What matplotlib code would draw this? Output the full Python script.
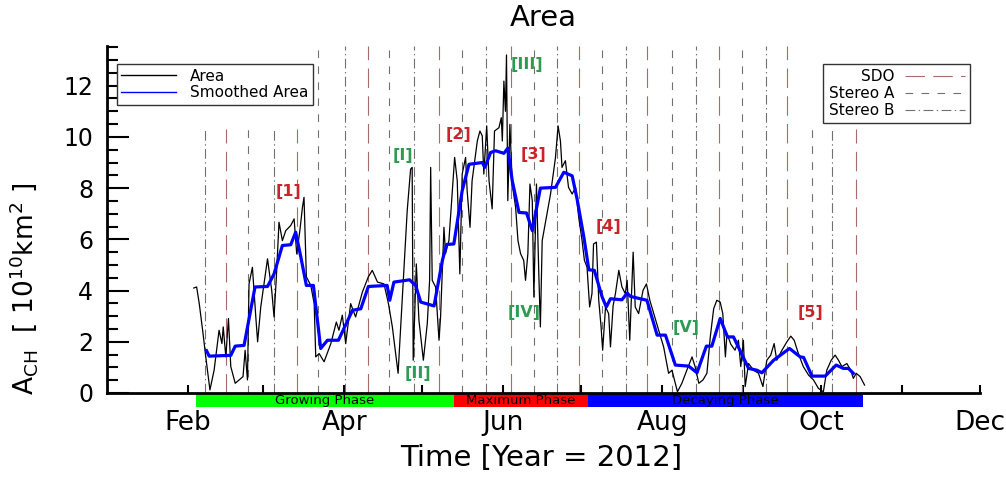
import numpy as np
import matplotlib
matplotlib.use('Agg')
import matplotlib.pyplot as plt
from matplotlib.lines import Line2D

plt.rcParams['font.family'] = ['DejaVu Sans']
plt.rcParams['mathtext.fontset'] = 'dejavusans'
plt.rcParams['lines.scale_dashes'] = False

# days counted from 2012-01-01
area_day = [33.3, 34.4, 35.4, 36.7, 37.9, 39.5, 41.1, 43.0, 44.1, 44.6, 45.6, 46.6, 47.5, 49.2, 52.2,
            53.0, 53.9, 54.5, 55.8, 57.1, 57.8, 59.0, 61.6, 63.2, 64.1, 65.0, 66.0, 67.3, 68.6, 70.5,
            71.8, 72.8, 74.0, 75.0, 75.6, 76.5, 78.2, 79.5, 80.1, 81.4, 83.3, 85.9, 88.0, 89.0, 90.3,
            91.6, 93.5, 95.4, 98.0, 100.3, 101.8, 103.8, 106.3, 108.0, 109.5, 111.7, 115.2, 116.5, 117.1,
            117.5, 118.7, 119.7, 121.4, 122.9, 123.8, 124.2, 124.8, 126.1, 127.4, 128.0, 129.3, 129.9,
            131.2, 132.5, 133.4, 134.4, 135.4, 136.3, 137.6, 138.2, 139.3, 140.1, 142.1, 143.1, 144.0,
            144.6, 145.7, 146.6, 147.8, 148.7, 150.4, 151.3, 151.7, 152.3, 152.9, 153.3, 153.8, 154.6,
            155.5, 156.8, 157.7, 158.7, 159.9, 160.6, 161.5, 162.3, 163.2, 163.8, 164.8, 165.7, 166.3,
            167.0, 170.2, 172.1, 173.1, 174.0, 174.6, 175.9, 177.1, 178.5, 179.8, 181.0, 182.3, 183.2,
            184.2, 185.2, 186.1, 186.7, 187.8, 188.7, 189.6, 190.2, 191.3, 192.5, 193.2, 194.2, 195.1,
            196.4, 197.6, 198.9, 199.6, 200.6, 201.9, 202.7, 204.0, 205.7, 207.0, 208.3, 209.8, 211.7,
            213.6, 215.5, 216.8, 218.9, 220.6, 222.5, 224.5, 225.7, 227.1, 228.7, 230.2, 231.5, 232.8,
            234.0, 235.3, 236.3, 237.3, 237.9, 239.4, 241.0, 242.3, 243.2, 244.2, 244.9, 246.2, 248.1,
            250.0, 251.7, 253.2, 254.7, 256.0, 257.0, 259.0, 260.9, 262.4, 263.7, 265.3, 267.2, 269.2,
            271.1, 273.0, 274.9, 276.2, 277.9, 279.4, 280.7, 282.0, 283.9, 285.4, 286.4, 287.5, 289.0,
            290.7]
area_val = [4.10, 4.14, 3.49, 2.45, 1.41, 0.12, 0.89, 2.45, 1.93, 2.58, 1.41, 2.91, 1.03, 0.38, 0.64,
            1.67, 0.51, 4.26, 4.91, 2.97, 2.00, 3.36, 5.24, 4.01, 2.97, 4.54, 6.67, 5.95, 6.34, 6.54,
            6.80, 5.43, 6.34, 7.25, 7.64, 4.54, 4.20, 3.49, 1.41, 1.54, 1.22, 1.93, 2.77, 2.45, 3.04,
            1.93, 3.49, 2.97, 3.94, 4.54, 4.79, 4.33, 4.26, 3.49, 2.58, 0.77, 7.12, 8.74, 8.81,
            1.28, 5.04, 2.84, 1.28, 2.71, 4.40, 8.81, 4.40, 4.14, 2.06, 2.97, 6.47, 5.44,
            5.95, 7.90, 9.20, 8.29, 4.65, 8.55, 9.20, 7.90, 6.47, 8.29, 9.84, 10.23, 10.04,
            8.55, 10.43, 8.29, 7.19, 10.23, 10.36, 10.75, 9.84, 12.18, 11.00, 13.20, 7.51, 10.49,
            8.16, 7.25, 5.95, 5.44, 5.18, 4.40, 5.44, 8.16, 7.51, 3.75, 8.16, 4.65, 2.58,
            5.95, 7.77, 9.20, 10.43, 9.84, 8.81, 9.07, 8.03, 7.77, 8.03, 6.87, 5.95, 5.18,
            4.92, 3.36, 3.88, 5.82, 5.89, 3.62, 2.58, 1.67, 3.36, 3.10, 1.80, 3.40, 3.88,
            4.79, 4.14, 3.88, 4.40, 2.06, 5.50, 3.36, 3.10, 4.01, 4.26, 3.62, 3.10, 2.45,
            1.80, 0.77, 0.89, 0.05, 0.38, 0.89, 1.41, 1.02, 0.38, 0.51, 0.77, 2.19, 3.29,
            3.62, 3.55, 3.10, 1.41, 2.32, 1.90, 1.67, 2.06, 1.03, 2.06, 0.25, 1.15, 0.89,
            0.77, 0.25, 1.28, 1.48, 1.93, 1.28, 1.67, 2.00, 2.22, 2.06, 1.54, 1.03, 0.70,
            0.51, 0.18, 0.05, 0.89, 1.28, 1.48, 1.28, 1.03, 1.15, 0.89, 0.57, 0.77, 0.64,
            0.31]

smooth_day = [38.2, 39.2, 47.5, 49.2, 52.6, 56.8, 61.6, 64.1, 67.3, 70.5, 72.4, 74.4, 76.5, 79.2,
              82.0, 84.6, 88.8, 94.2, 97.4, 100.3, 107.5, 108.5, 110.1, 116.1, 118.4, 120.4, 125.5,
              128.7, 130.3, 133.1, 136.3, 138.9, 144.0, 145.0, 147.2, 149.1, 152.3, 153.8, 155.5,
              158.1, 161.0, 163.2, 164.4, 166.3, 172.1, 175.3, 178.5, 180.4, 183.0, 184.9, 187.0,
              190.0, 191.6, 193.2, 197.6, 199.6, 200.9, 207.2, 211.1, 214.3, 218.1, 223.2, 226.4,
              230.0, 232.1, 235.3, 238.1, 240.4, 246.2, 249.4, 251.3, 255.8, 261.9, 266.0, 267.3,
              270.5, 275.6, 279.8, 282.6, 284.5, 286.4]
smooth_val = [1.65, 1.44, 1.47, 1.83, 1.86, 4.14, 4.16, 4.65, 5.76, 5.79, 6.28, 5.30, 4.20, 4.20,
              1.74, 2.06, 2.06, 3.23, 3.29, 4.16, 4.20, 3.62, 4.33, 4.42, 4.20, 3.55, 3.40,
              5.18, 5.80, 5.82, 7.90, 8.93, 9.00, 8.81, 9.39, 9.46, 9.36, 9.56, 8.29,
              7.05, 7.03, 6.34, 6.99, 8.00, 8.03, 8.62, 8.48, 7.57, 6.08, 4.81, 4.79,
              3.75, 3.36, 3.68, 3.64, 3.90, 3.77, 3.62, 2.26, 2.26, 1.09, 1.05, 0.79,
              1.83, 1.83, 2.91, 2.19, 2.19, 0.96, 0.89, 0.79, 1.28, 1.74, 1.41, 1.39,
              0.66, 0.66, 1.09, 0.96, 0.96, 0.77]

# observation dates of the three spacecraft (day of 2012)
sdo_day = [45.6, 72.8, 100.0, 127.3, 154.9, 181.3, 207.4, 235.0, 261.0, 287.5]
stereo_a_day = [54.0, 80.9, 108.1, 136.1, 163.7, 190.1, 216.9, 243.8, 270.6]
stereo_b_day = [37.6, 64.0, 91.2, 117.7, 145.6, 172.5, 199.3, 226.1, 253.0, 278.3]

phase_names = ['Growing Phase', 'Maximum Phase', 'Decaying Phase']
phase_start = [34.0, 133.0, 184.7]
phase_end = [133.0, 184.7, 290.0]
phase_colors = ['#00ff00', '#ff0000', '#0000ff']

events_red = ['[1]', '[2]', '[3]', '[4]', '[5]']
events_red_day = [69.8, 134.9, 163.7, 192.4, 269.8]
events_red_val = [7.86, 10.08, 9.30, 6.50, 3.15]
events_green = ['[I]', '[II]', '[III]', '[IV]', '[V]']
events_green_day = [113.5, 119.2, 161.0, 160.2, 222.3]
events_green_val = [9.26, 0.78, 12.84, 3.15, 2.57]

month_start = (np.arange('2012-02', '2012-12', dtype='datetime64[M]').astype('datetime64[D]')
               - np.datetime64('2012-01-01')).astype(int)
month_start = np.append(month_start, 335)
month_labels = ['Feb', '', 'Apr', '', 'Jun', '', 'Aug', '', 'Oct', '', 'Dec']

YMAX = 13.55
LEG_CLEAR = 10.3   # lines under the legend boxes stop here


def line_tops(days):
    return [LEG_CLEAR if (d < 76 or d > 268) else YMAX for d in days]


fig = plt.figure(figsize=(10.06, 4.79), dpi=100)
ax = fig.add_axes([107/1006, 1-393/479, 873/1006, 347/479])

sdo_style = dict(color='#a86a6a', lw=0.8, linestyle=(0, (14, 6)))
sta_style = dict(color='#707070', lw=0.8, linestyle=(0, (5.5, 6)))
stb_style = dict(color='#707070', lw=0.8, linestyle=(0, (7, 2.5, 1, 2.5)))

ax.vlines(sdo_day, 0, line_tops(sdo_day), **sdo_style)
ax.vlines(stereo_a_day, 0, line_tops(stereo_a_day), **sta_style)
ax.vlines(stereo_b_day, 0, line_tops(stereo_b_day), **stb_style)

ax.plot(area_day, area_val, color='black', lw=0.9, label='Area')
ax.plot(smooth_day, smooth_val, color='#0000ff', lw=2.3, label='Smoothed Area')

for name, s, e, c in zip(phase_names, phase_start, phase_end, phase_colors):
    ax.fill_between([s, e], -0.55, 0, color=c, lw=0, clip_on=False, zorder=1)
    ax.text((s+e)/2, -0.29, name, ha='center', va='center', fontsize=9.5, clip_on=False)

for t, d, v in zip(events_red, events_red_day, events_red_val):
    ax.text(d, v, t, color='#cc2229', fontsize=11.5, fontweight='bold', ha='center', va='center')
for t, d, v in zip(events_green, events_green_day, events_green_val):
    ax.text(d, v, t, color='#2e9a52', fontsize=11.5, fontweight='bold', ha='center', va='center')

ax.set_xlim(0, 335)
ax.set_ylim(0, YMAX)
ax.set_xticks(month_start)
ax.set_xticklabels(month_labels)
ax.set_yticks(np.arange(0, 13, 2))
ax.set_yticks(np.arange(0, 13.6, 0.5), minor=True)
ax.tick_params(axis='x', direction='in', length=6, width=1.5, labelsize=19, pad=12)
ax.tick_params(axis='y', which='major', direction='in', length=16, width=1.5, labelsize=17, pad=10)
ax.tick_params(axis='y', which='minor', direction='in', length=8, width=1.5)
for s in ['top', 'right']:
    ax.spines[s].set_visible(False)
for s in ['left', 'bottom']:
    ax.spines[s].set_linewidth(2)

ax.set_ylabel(r'$\mathrm{A_{CH}\ \ [\ 10^{10}km^2\ ]}$', fontsize=19)
ax.yaxis.set_label_coords(-0.077, 0.30)

leg1 = ax.legend(loc='upper left', bbox_to_anchor=(0.011, 0.948), fontsize=11, frameon=True,
                 fancybox=False, edgecolor='#333333', framealpha=1, handlelength=3.6,
                 labelspacing=0.1, borderpad=0.3, handletextpad=0.9, borderaxespad=0)
for h in leg1.get_lines():
    h.set_linewidth(1)
ax.add_artist(leg1)

sc_handles = [Line2D([], [], **sdo_style), Line2D([], [], **sta_style), Line2D([], [], **stb_style)]
ax.legend(sc_handles, ['SDO', 'Stereo A', 'Stereo B'], loc='upper right', bbox_to_anchor=(0.9885, 0.948),
          fontsize=11, frameon=True, fancybox=False, edgecolor='#333333', framealpha=1,
          handlelength=3.9, labelspacing=0.12, borderpad=0.35, handletextpad=0.7, borderaxespad=0,
          markerfirst=False)

fig.text(543/1006, 1-18/479, 'Area', ha='center', va='center', fontsize=21)
fig.text(541/1006, 1-458/479, 'Time [Year = 2012]', ha='center', va='center', fontsize=21)

fig.savefig('out.png', dpi=100, facecolor='white')
